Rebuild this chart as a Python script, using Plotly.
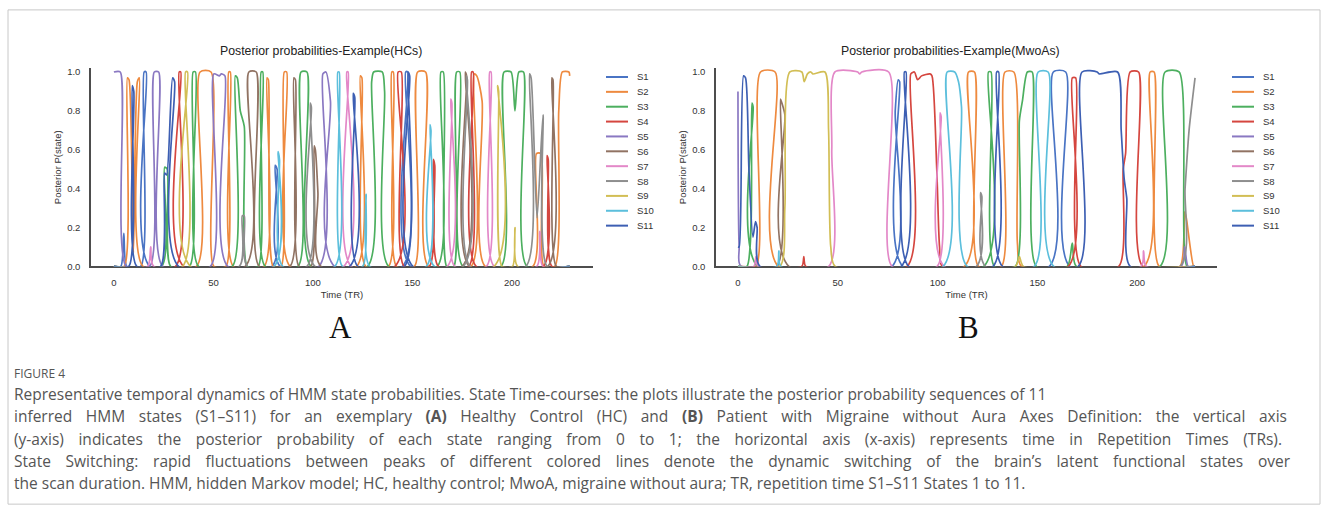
import json
import plotly.graph_objects as go

W, H = 1328, 519
T_END = 229

STATES = [f"S{i}" for i in range(1, 12)]
COLORS = ["#4a74c4", "#ee8a3f", "#4caf5f", "#d5463f", "#8a78c2", "#917363",
          "#e388c8", "#8e8e8e", "#d2be55", "#5cbfdc", "#3d5fb3"]

X_TICKS = [0, 50, 100, 150, 200]
Y_TICKS = [0.0, 0.2, 0.4, 0.6, 0.8, 1.0]

TITLES = ["Posterior probabilities-Example(HCs)", "Posterior probabilities-Example(MwoAs)"]
PANEL_LETTERS = ["A", "B"]

# Episodes: (state number, times in TR, posterior values)
HC_EPISODES = [
    (5, [0, 3.2, 6.2], [1.0, 1.0, 0.0]),
    (1, [3.5, 5.0, 6.5], [0.0, 0.17, 0.0]),
    (2, [5.2, 6.8, 7.6, 9.8, 11.8, 12.8, 14.6], [0.0, 0.97, 0.96, 0.07, 0.95, 0.97, 0.0]),
    (11, [7.5, 9.2, 10.0, 11.5], [0.0, 0.93, 0.90, 0.0]),
    (1, [13.5, 15.2, 16.2, 18.0], [0.0, 1.0, 1.0, 0.0]),
    (7, [17.0, 18.5, 20.0], [0.0, 0.10, 0.0]),
    (5, [18.0, 20.3, 22.5, 24.5], [0.0, 1.0, 1.0, 0.0]),
    (3, [24.0, 25.5, 26.8, 28.5], [0.0, 0.51, 0.50, 0.0]),
    (11, [23.5, 25.5, 26.5, 29.5, 30.5, 32.5], [0.0, 0.48, 0.47, 0.97, 0.95, 0.0]),
    (4, [31.0, 32.8, 33.6, 35.0], [0.0, 1.0, 1.0, 0.0]),
    (9, [34.5, 36.0, 37.0, 38.5], [0.0, 1.0, 1.0, 0.0]),
    (3, [38.0, 39.8, 41.0, 42.5], [0.0, 1.0, 1.0, 0.0]),
    (2, [41.5, 43.3, 48.8, 50.2], [0.0, 1.0, 1.0, 0.0]),
    (5, [48.5, 50.2, 53.0, 54.0, 55.8, 57.2], [0.0, 0.99, 0.98, 0.99, 0.98, 0.0]),
    (2, [56.3, 57.7, 58.5, 60.0], [0.0, 1.0, 1.0, 0.0]),
    (3, [59.5, 61.0, 62.0, 63.5, 65.5, 67.0], [0.0, 0.98, 0.97, 0.80, 0.72, 0.0]),
    (8, [63.0, 64.5, 65.5, 67.0], [0.0, 0.26, 0.26, 0.0]),
    (6, [66.0, 67.8, 71.5, 73.0], [0.0, 1.0, 1.0, 0.0]),
    (3, [72.5, 74.0, 74.8, 76.0], [0.0, 1.0, 1.0, 0.0]),
    (2, [75.5, 76.9, 77.6, 80.0], [0.0, 0.97, 0.96, 0.0]),
    (1, [79.5, 81.0, 82.0, 83.5], [0.0, 0.52, 0.50, 0.0]),
    (10, [80.5, 82.5, 83.2, 84.8], [0.0, 0.59, 0.55, 0.0]),
    (2, [84.0, 85.6, 86.8, 88.5], [0.0, 1.0, 1.0, 0.0]),
    (6, [88.5, 90.4, 91.2, 93.0], [0.0, 0.97, 0.96, 0.0]),
    (3, [92.5, 94.0, 97.0, 99.0], [0.0, 1.0, 1.0, 0.0]),
    (8, [97.0, 98.6, 99.2, 101.0], [0.0, 0.84, 0.82, 0.0]),
    (6, [99.0, 100.6, 101.2, 102.5, 104.0], [0.0, 0.62, 0.60, 0.38, 0.0]),
    (5, [103.0, 105.0, 106.5, 108.8, 110.8], [0.0, 0.99, 1.0, 0.85, 0.0]),
    (10, [111.0, 112.5, 113.2, 114.8], [0.0, 1.0, 1.0, 0.0]),
    (7, [115.5, 117.0, 117.7, 119.2], [0.0, 1.0, 1.0, 0.0]),
    (11, [118.5, 120.2, 121.0, 122.5], [0.0, 0.89, 0.87, 0.0]),
    (2, [122.0, 123.8, 124.6, 126.5], [0.0, 0.98, 0.97, 0.0]),
    (10, [125.0, 126.7, 128.5], [0.0, 0.37, 0.0]),
    (3, [127.5, 129.5, 130.5, 134.8, 136.0, 138.0], [0.0, 0.95, 1.0, 1.0, 0.90, 0.0]),
    (2, [138.0, 139.6, 140.4, 142.0], [0.0, 1.0, 1.0, 0.0]),
    (4, [141.2, 142.8, 144.4, 145.8], [0.0, 1.0, 1.0, 0.0]),
    (1, [145.0, 146.6, 147.6, 149.0], [0.0, 1.0, 1.0, 0.0]),
    (11, [146.0, 147.8, 148.6, 150.2], [0.0, 1.0, 0.98, 0.0]),
    (2, [151.0, 152.6, 156.6, 158.0], [0.0, 1.0, 1.0, 0.0]),
    (10, [157.0, 158.8, 159.3, 161.0], [0.0, 0.73, 0.70, 0.0]),
    (4, [158.5, 160.5, 161.2, 163.0], [0.0, 0.55, 0.52, 0.0]),
    (3, [162.5, 164.3, 165.5, 167.2], [0.0, 1.0, 1.0, 0.0]),
    (7, [167.5, 169.2, 169.8, 171.2], [0.0, 0.86, 0.84, 0.0]),
    (3, [170.8, 172.2, 173.8, 175.3], [0.0, 1.0, 1.0, 0.0]),
    (6, [175.0, 176.5, 177.2, 178.5], [0.0, 1.0, 0.98, 0.0]),
    (8, [175.5, 177.0, 177.6, 179.0], [0.0, 0.98, 0.96, 0.0]),
    (4, [178.3, 179.7, 180.5, 182.0], [0.0, 1.0, 1.0, 0.0]),
    (2, [179.5, 181.0, 182.3, 185.0, 186.5], [0.0, 0.99, 0.98, 0.85, 0.0]),
    (7, [187.2, 188.8, 189.5, 191.0], [0.0, 1.0, 1.0, 0.0]),
    (9, [191.0, 192.8, 193.3, 195.0], [0.0, 0.93, 0.90, 0.0]),
    (3, [194.5, 196.0, 199.5, 201.5, 203.5, 205.8, 207.5], [0.0, 1.0, 1.0, 0.80, 1.0, 1.0, 0.0]),
    (9, [200.3, 201.5, 202.8], [0.0, 0.20, 0.0]),
    (8, [207.0, 208.8, 209.6, 212.6, 215.6, 217.6], [0.0, 0.99, 0.97, 0.25, 0.78, 0.0]),
    (2, [210.5, 212.3, 214.6, 216.0], [0.0, 0.58, 0.58, 0.0]),
    (7, [212.5, 214.0, 215.5], [0.0, 0.18, 0.0]),
    (4, [215.8, 217.6, 218.2, 220.0], [0.0, 0.57, 0.55, 0.0]),
    (6, [218.0, 220.0, 220.6, 222.3], [0.0, 0.97, 0.96, 0.0]),
    (2, [221.5, 223.5, 225.3, 228.6, 229.0], [0.0, 0.80, 1.0, 1.0, 0.98]),
]

MWOA_EPISODES = [
    (5, [0, 0.6, 1.5], [0.90, 0.10, 0.0]),
    (11, [0, 0.6, 2.8, 3.8, 5.5, 7.5, 8.8, 9.6, 11.0], [0.10, 0.10, 0.98, 0.97, 0.50, 0.15, 0.23, 0.20, 0.0]),
    (3, [4.5, 7.0, 7.6, 9.8], [0.0, 0.84, 0.82, 0.0]),
    (7, [8.0, 9.0, 10.0], [0.0, 0.05, 0.0]),
    (2, [9.0, 11.3, 18.6, 20.2], [0.0, 1.0, 1.0, 0.0]),
    (6, [19.5, 21.3, 22.0, 23.5, 25.5], [0.0, 0.86, 0.84, 0.78, 0.0]),
    (10, [19.5, 20.5, 21.5], [0.0, 0.08, 0.0]),
    (9, [21.0, 23.5, 26.0, 32.0, 33.2, 34.8, 36.5, 37.5, 43.6, 45.4, 46.5, 48.7],
        [0.0, 0.30, 1.0, 1.0, 0.95, 0.99, 1.0, 0.99, 1.0, 0.70, 0.10, 0.0]),
    (4, [32.0, 33.0, 34.0], [0.0, 0.05, 0.0]),
    (7, [45.5, 47.0, 48.6, 60.0, 61.0, 62.0, 75.5, 77.2], [0.0, 0.60, 1.0, 1.0, 0.99, 1.0, 1.0, 0.0]),
    (1, [77.2, 78.8, 80.3, 81.0, 82.6], [0.0, 0.80, 0.96, 0.95, 0.0]),
    (11, [81.8, 83.4, 84.2, 85.5], [0.0, 1.0, 1.0, 0.0]),
    (4, [84.8, 86.6, 88.4, 90.0, 92.0, 96.2, 97.2, 99.6, 101.0, 102.4],
        [0.0, 0.99, 1.0, 0.96, 0.98, 0.99, 0.98, 0.50, 0.10, 0.0]),
    (7, [99.8, 101.2, 101.8, 103.3], [0.0, 0.79, 0.77, 0.0]),
    (10, [102.8, 104.8, 108.6, 110.5, 112.0, 114.8], [0.0, 1.0, 1.0, 0.95, 0.82, 0.0]),
    (2, [113.5, 115.5, 118.5, 120.5], [0.0, 1.0, 1.0, 0.0]),
    (8, [119.5, 121.5, 122.2, 124.0], [0.0, 0.38, 0.36, 0.0]),
    (3, [123.2, 125.5, 126.8, 128.5], [0.0, 1.0, 1.0, 0.0]),
    (11, [127.8, 129.6, 130.6, 132.5], [0.0, 1.0, 1.0, 0.0]),
    (2, [132.0, 133.8, 138.2, 140.0, 142.0], [0.0, 1.0, 1.0, 0.12, 0.0]),
    (3, [139.0, 141.0, 142.5, 145.0, 147.4, 149.5], [0.0, 0.75, 0.85, 1.0, 1.0, 0.0]),
    (9, [139.0, 141.0, 143.0], [0.0, 0.05, 0.0]),
    (10, [148.5, 150.4, 155.4, 158.2], [0.0, 1.0, 1.0, 0.0]),
    (1, [156.0, 158.0, 164.2, 166.2], [0.0, 1.0, 1.0, 0.0]),
    (3, [165.0, 167.5, 169.5], [0.0, 0.12, 0.0]),
    (4, [165.5, 167.5, 169.2, 171.8], [0.0, 0.97, 0.97, 0.0]),
    (11, [170.5, 172.4, 180.0, 181.0, 190.2, 192.0, 193.5, 194.8, 196.5],
         [0.0, 1.0, 1.0, 0.99, 1.0, 0.70, 0.45, 0.35, 0.0]),
    (4, [190.8, 193.0, 194.2, 196.5, 200.7, 202.8], [0.0, 0.50, 0.58, 1.0, 1.0, 0.0]),
    (7, [202.0, 203.2, 204.5], [0.0, 0.08, 0.0]),
    (2, [203.5, 206.5, 208.5, 211.0], [0.0, 1.0, 1.0, 0.0]),
    (3, [211.5, 214.0, 221.0, 225.0], [0.0, 1.0, 1.0, 0.0]),
    (2, [221.5, 223.8, 224.6, 228.3], [0.0, 0.28, 0.25, 0.0]),
    (5, [222.0, 223.8, 225.5], [0.0, 0.10, 0.0]),
    (8, [221.5, 224.0, 226.0, 229.0], [0.0, 0.40, 0.70, 0.97]),
]

CAPTION_HEAD = "FIGURE 4"
CAPTION_LINES = [
    "Representative temporal dynamics of HMM state probabilities. State Time-courses: the plots illustrate the posterior probability sequences of 11",
    "inferred HMM states (S1–S11) for an exemplary <b>(A)</b> Healthy Control (HC) and <b>(B)</b> Patient with Migraine without Aura Axes Definition: the vertical axis",
    "(y-axis) indicates the posterior probability of each state ranging from 0 to 1; the horizontal axis (x-axis) represents time in Repetition Times (TRs).",
    "State Switching: rapid fluctuations between peaks of different colored lines denote the dynamic switching of the brain’s latent functional states over",
    "the scan duration. HMM, hidden Markov model; HC, healthy control; MwoA, migraine without aura; TR, repetition time S1–S11 States 1 to 11.",
]
# right end (px) of the justified caption lines of the original page (None = natural width)
CAPTION_LINE_ENDS = [None, 1287, 1282, 1290, None]


def state_series(episodes, state):
    eps = sorted([e for e in episodes if e[0] == state], key=lambda e: e[1][0])
    xs, ys = [], []
    for _, t, p in eps:
        if not xs and t[0] > 0:
            xs.append(0)
            ys.append(0.0)
        xs += list(t)
        ys += list(p)
    if not xs:
        xs, ys = [0], [0.0]
    if xs[-1] < T_END:
        xs.append(T_END)
        ys.append(0.0)
    return xs, ys


def px_x(p):
    return p / W


def px_y(p):
    return 1 - p / H


fig = go.Figure()

panels = [
    dict(eps=HC_EPISODES, xa="x", ya="y", xdom=(91, 593), xr=[-11.5, 240.7],
         title_x=321, letter_x=340, leg_line=(606, 628), leg_text=635),
    dict(eps=MWOA_EPISODES, xa="x2", ya="y2", xdom=(716, 1217), xr=[-11, 240],
         title_x=950, letter_x=968, leg_line=(1232, 1254), leg_text=1261),
]

AX_TOP, AX_BOT = 67, 268
FONT = "Liberation Sans, Arial, sans-serif"
CAP_FONT = "Open Sans, sans-serif"
AXIS_COLOR = "#4d4d4d"
CAP_X = 14

annotations = []
shapes = []

for k, pn in enumerate(panels):
    for i, (name, col) in enumerate(zip(STATES, COLORS)):
        xs, ys = state_series(pn["eps"], i + 1)
        fig.add_trace(go.Scatter(x=xs, y=ys, mode="lines", name=name,
                                 line=dict(color=col, width=1.7, shape="spline", smoothing=0.7),
                                 xaxis=pn["xa"], yaxis=pn["ya"], showlegend=False))
    sfx = "" if k == 0 else "2"
    axis_common = dict(showline=True, linecolor=AXIS_COLOR, linewidth=1.5, ticks="",
                       showgrid=False, zeroline=False, layer="below traces",
                       tickfont=dict(family=FONT, size=9.5, color="#333333"))
    fig.update_layout(**{
        "xaxis" + sfx: dict(domain=[px_x(pn["xdom"][0]), px_x(pn["xdom"][1])], range=pn["xr"],
                            anchor="y" + sfx, tickvals=X_TICKS, ticklabelstandoff=6,
                            title=dict(text="Time (TR)", font=dict(family=FONT, size=9.5, color="#333333"),
                                       standoff=5),
                            **axis_common),
        "yaxis" + sfx: dict(domain=[px_y(AX_BOT), px_y(AX_TOP)], range=[0, 1.02],
                            anchor="x" + sfx, tickvals=Y_TICKS, tickformat=".1f", ticklabelstandoff=7,
                            title=dict(text="Posterior P(state)", font=dict(family=FONT, size=9.5, color="#333333"),
                                       standoff=4),
                            **axis_common),
    })
    annotations.append(dict(text=TITLES[k], x=px_x(pn["title_x"]), y=px_y(50), xref="paper", yref="paper",
                            showarrow=False, xanchor="center", yanchor="middle",
                            font=dict(family=FONT, size=12.3, color="#222222")))
    annotations.append(dict(text=PANEL_LETTERS[k], x=px_x(pn["letter_x"]), y=px_y(330), xref="paper",
                            yref="paper", showarrow=False, xanchor="center", yanchor="middle",
                            font=dict(family="Liberation Serif, Times New Roman, serif", size=31, color="#111111")))
    for i, (name, col) in enumerate(zip(STATES, COLORS)):
        yy = 76 + 15.07 * i
        shapes.append(dict(type="line", xref="paper", yref="paper",
                           x0=px_x(pn["leg_line"][0]), x1=px_x(pn["leg_line"][1]),
                           y0=px_y(yy), y1=px_y(yy), line=dict(color=col, width=2)))
        annotations.append(dict(text=name, x=px_x(pn["leg_text"]), y=px_y(yy), xref="paper", yref="paper",
                                showarrow=False, xanchor="left", yanchor="middle",
                                font=dict(family=FONT, size=9.5, color="#333333")))

annotations.append(dict(text=CAPTION_HEAD, x=px_x(CAP_X), y=px_y(377), xref="paper", yref="paper",
                        showarrow=False, xanchor="left", yanchor="middle",
                        font=dict(family=CAP_FONT, size=12, color="#555555")))
for i, line in enumerate(CAPTION_LINES):
    annotations.append(dict(text=line, x=px_x(CAP_X), y=px_y(397.5 + 22.5 * i), xref="paper", yref="paper",
                            showarrow=False, xanchor="left", yanchor="middle",
                            font=dict(family=CAP_FONT, size=15.5, color="#555555")))

# figure frame
shapes.append(dict(type="rect", xref="paper", yref="paper", x0=px_x(8), x1=px_x(1320),
                   y0=px_y(509), y1=px_y(8), line=dict(color="#c8c8c8", width=1)))

fig.update_layout(width=W, height=H, margin=dict(l=0, r=0, t=0, b=0),
                  paper_bgcolor="white", plot_bgcolor="white",
                  annotations=annotations, shapes=shapes, showlegend=False)

# left-align the caption texts at the page margin and justify the lines justified in the original page
starts = [CAPTION_HEAD] + [line.replace("<b>", "").replace("</b>", "")[:25] for line in CAPTION_LINES]
targets = [None] + CAPTION_LINE_ENDS
justify_js = """
document.body.style.margin='0';document.body.style.overflow='hidden';
var starts = %s, targets = %s, x0 = %d;
document.querySelectorAll('.annotation-text').forEach(function(el){
  var t = el.textContent;
  for (var i = 0; i < starts.length; i++) {
    if (t.indexOf(starts[i]) === 0) {
      if (targets[i]) {
        var len = el.getComputedTextLength();
        var n = (t.match(/ /g) || []).length;
        if (n > 0) { el.style.wordSpacing = ((targets[i] - x0 - len) / n) + 'px'; }
      }
      var r = el.getBoundingClientRect();
      var dx = x0 - r.left;
      var prev = el.getAttribute('transform') || '';
      el.setAttribute('transform', prev + ' translate(' + dx + ',0)');
      break;
    }
  }
});
""" % (json.dumps(starts), json.dumps(targets), CAP_X)

fig.write_html("out.html", config={"displayModeBar": False}, post_script=justify_js)
